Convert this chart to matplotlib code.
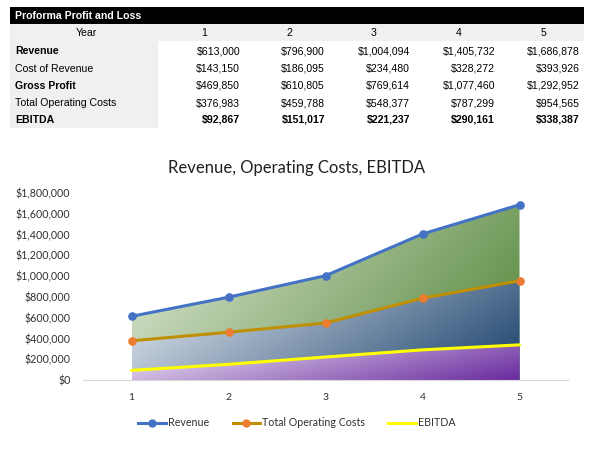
import numpy as np
import matplotlib
matplotlib.use("Agg")
import matplotlib.pyplot as plt
from matplotlib.patches import Rectangle
from matplotlib.lines import Line2D

# ---- data ----
years = [1, 2, 3, 4, 5]
row_labels = ["Revenue", "Cost of Revenue", "Gross Profit", "Total Operating Costs", "EBITDA"]
revenue = [613000, 796900, 1004094, 1405732, 1686878]
cost_of_revenue = [143150, 186095, 234480, 328272, 393926]
gross_profit = [469850, 610805, 769614, 1077460, 1292952]
total_operating_costs = [376983, 459788, 548377, 787299, 954565]
ebitda = [92867, 151017, 221237, 290161, 338387]
table_rows = [revenue, cost_of_revenue, gross_profit, total_operating_costs, ebitda]
bold_labels = [True, False, True, False, True]
bold_values = [False, False, False, False, True]
y_ticks = [0, 200000, 400000, 600000, 800000, 1000000, 1200000, 1400000, 1600000, 1800000]

W, H = 590, 451
fig = plt.figure(figsize=(W / 100, H / 100), dpi=100)

# ---- table (pixel coordinate overlay) ----
tab = fig.add_axes([0, 0, 1, 1])
tab.set_xlim(0, W)
tab.set_ylim(H, 0)
tab.axis("off")
tfont = "Liberation Sans"
tfs = 7.6
tab.add_patch(Rectangle((10, 7), 574, 17, color="black", lw=0))
tab.add_patch(Rectangle((10, 24), 574, 17, color="#F0F0F0", lw=0))
tab.add_patch(Rectangle((10, 41), 148, 87, color="#F0F0F0", lw=0))
tab.text(15, 16, "Proforma Profit and Loss", color="white", fontweight="bold",
         fontsize=tfs, family=tfont, va="center", ha="left")
tab.text(86, 33, "Year", fontsize=tfs, family=tfont, va="center", ha="center")
col_right = [240, 325, 410, 495, 580]
for j, yr in enumerate(years):
    tab.text(col_right[j] - 36, 33, str(yr), fontsize=tfs, family=tfont,
             va="center", ha="center")
row_y = [51, 68.5, 86, 103, 120]
for i, (lab, vals) in enumerate(zip(row_labels, table_rows)):
    tab.text(15, row_y[i], lab, fontsize=tfs, family=tfont, va="center", ha="left",
             fontweight="bold" if bold_labels[i] else "normal")
    for j, v in enumerate(vals):
        tab.text(col_right[j], row_y[i], "${:,}".format(v), fontsize=tfs, family=tfont,
                 va="center", ha="right",
                 fontweight="bold" if bold_values[i] else "normal")

# ---- chart ----
cfont = "Lato"
tcol = "#303030"
ax = fig.add_axes([83 / W, 71 / H, 485 / W, 187 / H])
ax.set_xlim(0.5, 5.5)
ax.set_ylim(0, 1800000)

def grad_fill(x, y, c_light, c_dark, z):
    x = np.asarray(x, float)
    y = np.asarray(y, float)
    poly = ax.fill_between(x, 0, y, color="none", lw=0, zorder=z)
    n, m = 200, 300
    u = np.linspace(0, 1, m)[None, :]
    v = np.linspace(1, 0, n)[:, None]  # row 0 top -> v=1
    t = 0.72 * u + 0.28 * (1 - v)
    t = np.clip(t, 0, 1)
    cl = np.array(c_light) / 255.0
    cd = np.array(c_dark) / 255.0
    img = cl[None, None, :] * (1 - t[..., None]) + cd[None, None, :] * t[..., None]
    im = ax.imshow(img, extent=[x.min(), x.max(), 0, y.max()], origin="upper",
                   aspect="auto", zorder=z, interpolation="bilinear")
    paths = poly.get_paths()
    im.set_clip_path(paths[0], transform=ax.transData)

grad_fill(years, revenue, (228, 236, 218), (80, 132, 55), 1)
grad_fill(years, total_operating_costs, (236, 240, 246), (22, 62, 105), 2)
grad_fill(years, ebitda, (242, 235, 248), (105, 42, 158), 3)

ax.set_xlim(0.5, 5.5)
ax.set_ylim(0, 1800000)

lw = 2.2
ax.plot(years, ebitda, color="#FFFF00", lw=lw, zorder=6, solid_capstyle="round")
ax.plot(years, total_operating_costs, color="#BF8F00", lw=lw, zorder=5,
        marker="o", markersize=5.2, markerfacecolor="#ED7D31", markeredgecolor="#ED7D31")
ax.plot(years, revenue, color="#4472C4", lw=lw, zorder=7,
        marker="o", markersize=5.2, markerfacecolor="#4472C4", markeredgecolor="#4472C4")

for s in ["top", "right", "left"]:
    ax.spines[s].set_visible(False)
ax.spines["bottom"].set_color("#D9D9D9")
ax.spines["bottom"].set_zorder(8)
ax.set_xticks(years)
ax.set_xticklabels([str(y) for y in years], family=cfont, fontsize=7.5, color=tcol)
ax.set_yticks(y_ticks)
ax.set_yticklabels(["${:,}".format(v) for v in y_ticks], family=cfont, fontsize=7.7,
                   color=tcol)
ax.tick_params(length=0, pad=9)
ax.tick_params(axis="x", pad=9)

fig.text(297 / W, 1 - 168 / H, "Revenue, Operating Costs, EBITDA", family=cfont,
         fontsize=12, color="#202020", ha="center", va="center")

handles = [
    Line2D([], [], color="#4472C4", lw=lw, marker="o", markersize=5,
           markerfacecolor="#4472C4", markeredgecolor="#4472C4"),
    Line2D([], [], color="#BF8F00", lw=lw, marker="o", markersize=5,
           markerfacecolor="#ED7D31", markeredgecolor="#ED7D31"),
    Line2D([], [], color="#FFFF00", lw=lw),
]
leg = fig.legend(handles, ["Revenue", "Total Operating Costs", "EBITDA"],
                 loc="center", bbox_to_anchor=(297 / W, 1 - 423 / H), ncol=3,
                 frameon=False, handlelength=2.6, handletextpad=0.15, columnspacing=2.2,
                 prop={"family": cfont, "size": 7.7})
for t in leg.get_texts():
    t.set_color(tcol)

fig.savefig("out.png", dpi=100)
